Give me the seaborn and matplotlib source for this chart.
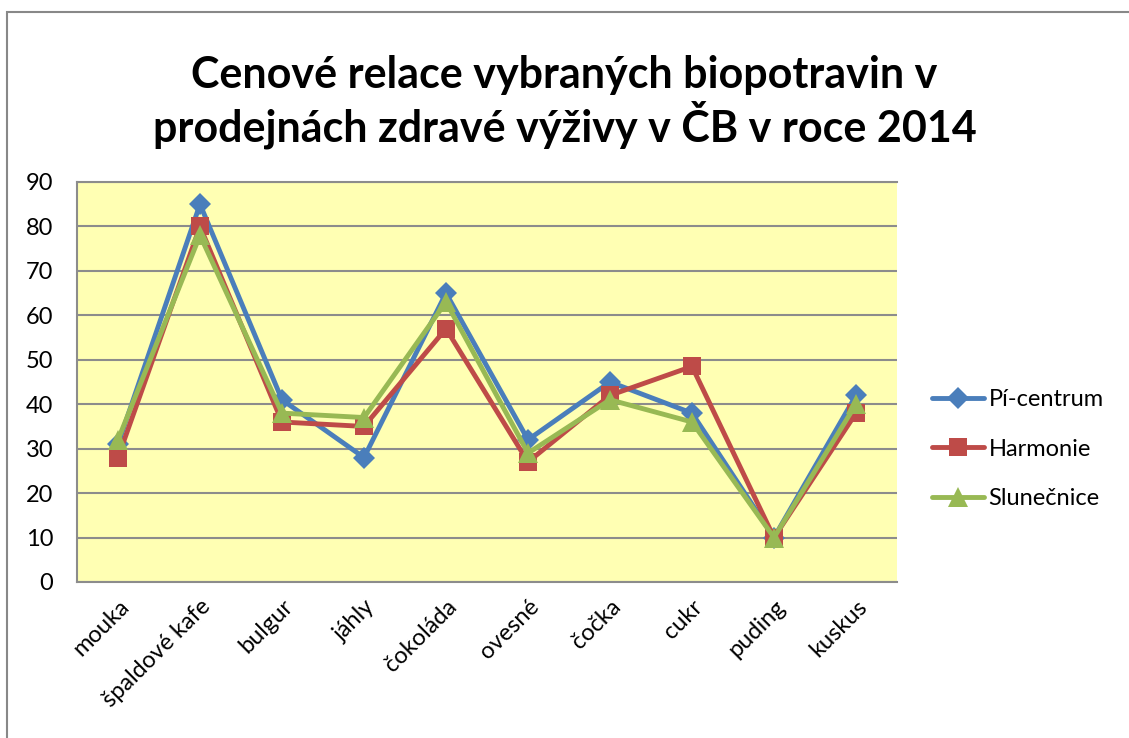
import pandas as pd
import matplotlib.pyplot as plt
import seaborn as sns
from matplotlib.patches import Rectangle

# values
categories = ['mouka', 'špaldové kafe', 'bulgur', 'jáhly', 'čokoláda',
              'ovesné', 'čočka', 'cukr', 'puding', 'kuskus']
pi_centrum = [31, 85, 41, 28, 65, 32, 45, 38, 10, 42]
harmonie = [28, 80, 36, 35, 57, 27, 42, 48.5, 10, 38]
slunecnice = [32, 78, 38, 37, 63, 29, 41, 36, 10, 40]
series_names = ['Pí-centrum', 'Harmonie', 'Slunečnice']
y_ticks = [0, 10, 20, 30, 40, 50, 60, 70, 80, 90]

df = pd.DataFrame({
    'kategorie': categories * 3,
    'cena': pi_centrum + harmonie + slunecnice,
    'prodejna': [n for n in series_names for _ in categories],
})

sns.set_style('white')
plt.rcParams['font.family'] = ['Lato', 'DejaVu Sans']
plt.rcParams['text.color'] = 'black'
plt.rcParams['xtick.color'] = 'black'
plt.rcParams['ytick.color'] = 'black'

fig = plt.figure(figsize=(11.29, 7.38), dpi=100)
ax = fig.add_axes([77 / 1129, 1 - 582 / 738, 820 / 1129, 400 / 738])
ax.set_facecolor('#FFFFB3')

# outer chart frame
fig.patches.append(Rectangle((7 / 1129, -0.01), 1.02, 1 - 12 / 738 + 0.01,
                             transform=fig.transFigure, fill=False,
                             edgecolor='#888888', linewidth=1.5))

palette = {'Pí-centrum': '#4A7EBB', 'Harmonie': '#BE4B48', 'Slunečnice': '#98B954'}
markers = {'Pí-centrum': 'D', 'Harmonie': 's', 'Slunečnice': '^'}
sizes = {'Pí-centrum': 11, 'Harmonie': 13, 'Slunečnice': 15}

for name in series_names:
    sub = df[df['prodejna'] == name]
    sns.lineplot(data=sub, x='kategorie', y='cena', ax=ax, color=palette[name],
                 marker=markers[name], markersize=sizes[name], markeredgewidth=0,
                 linewidth=3.5, sort=False, label=name)

ax.set_xlim(-0.5, len(categories) - 0.5)
ax.set_ylim(0, 90)
ax.set_yticks(y_ticks)
ax.yaxis.grid(True, color='#8C8C8C', linewidth=1.5)
ax.set_axisbelow(True)
for side in ['left', 'bottom', 'top']:
    ax.spines[side].set_color('#8C8C8C')
    ax.spines[side].set_linewidth(1.5)
ax.spines['right'].set_visible(False)
ax.set_xlabel('')
ax.set_ylabel('')
ax.tick_params(axis='y', labelsize=17, pad=17, length=0)
ax.tick_params(axis='x', labelsize=17, pad=10, length=0)
plt.setp(ax.get_xticklabels(), rotation=45, ha='right', rotation_mode='anchor')

fig.text(0.5, 1 - 75 / 738, 'Cenové relace vybraných biopotravin v',
         ha='center', va='center', fontsize=31, fontweight='bold')
fig.text(0.5, 1 - 125 / 738, 'prodejnách zdravé výživy v ČB v roce 2014',
         ha='center', va='center', fontsize=31, fontweight='bold')

leg = ax.legend(loc='center left', bbox_to_anchor=(932 / 1129, 1 - 449 / 738),
                bbox_transform=fig.transFigure, frameon=False, fontsize=17,
                handlelength=2.2, handletextpad=0.2, labelspacing=1.2,
                borderpad=0, borderaxespad=0)

fig.savefig('out.png', dpi=100)
